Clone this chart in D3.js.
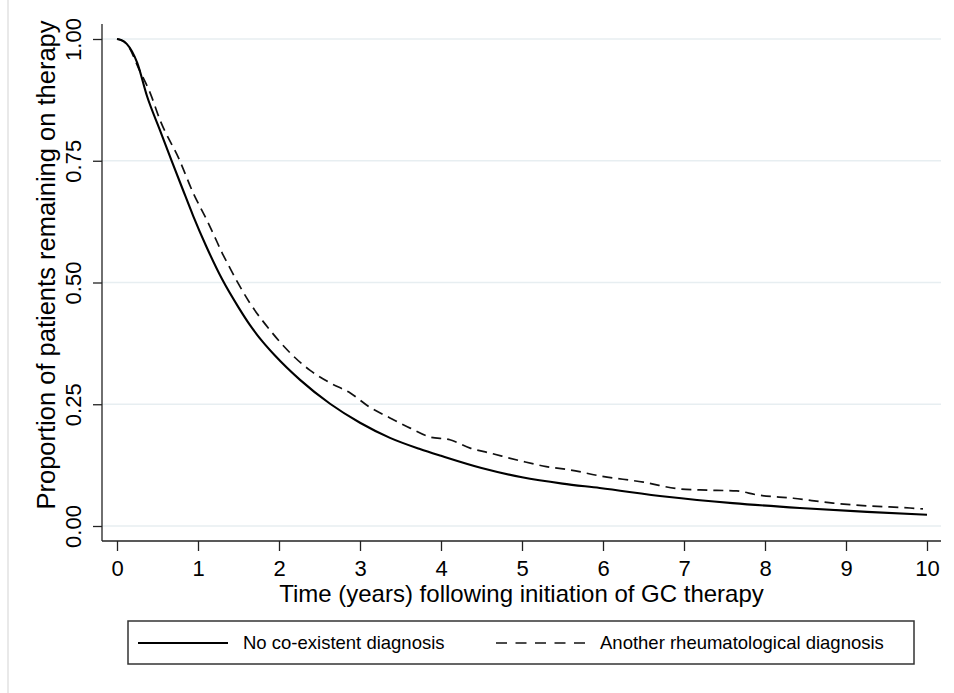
<!DOCTYPE html>
<html>
<head>
<meta charset="utf-8">
<script src="https://cdn.jsdelivr.net/npm/d3@7"></script>
<style>
  html, body { margin: 0; padding: 0; background: #fff; }
  svg { display: block; font-family: "Liberation Sans", Arial, sans-serif; }
</style>
</head>
<body>
<svg id="chart" width="954" height="693"></svg>
<script>
// Kaplan–Meier style survival on GC therapy, two patient groups
const timesNone = [0, 0.05, 0.12, 0.25, 0.37, 0.53, 0.67, 0.81, 0.94, 1.1, 1.3, 1.5, 1.64, 1.8, 1.95, 2.26, 2.63, 3.0, 3.37, 3.74, 4.0, 4.5, 5.0, 5.5, 5.96, 6.79, 7.6, 8.43, 9.26, 10.0];
const survNone  = [1.0, 0.998, 0.99, 0.951, 0.883, 0.813, 0.752, 0.692, 0.637, 0.575, 0.506, 0.449, 0.413, 0.378, 0.35, 0.3, 0.251, 0.212, 0.181, 0.158, 0.144, 0.119, 0.1, 0.087, 0.078, 0.06, 0.047, 0.037, 0.029, 0.023];

const timesRheum = [0, 0.05, 0.12, 0.28, 0.41, 0.53, 0.77, 0.94, 1.11, 1.2, 1.3, 1.4, 1.5, 1.64, 1.89, 2.14, 2.38, 2.63, 2.88, 3.12, 3.37, 3.62, 3.86, 4.11, 4.36, 4.6, 5.0, 5.3, 5.6, 5.96, 6.5, 6.95, 7.2, 7.65, 7.9, 8.35, 8.84, 9.3, 9.79, 9.95];
const survRheum  = [1.0, 0.998, 0.99, 0.935, 0.889, 0.834, 0.752, 0.684, 0.628, 0.596, 0.56, 0.528, 0.497, 0.458, 0.402, 0.355, 0.32, 0.294, 0.273, 0.244, 0.222, 0.201, 0.183, 0.177, 0.16, 0.15, 0.133, 0.122, 0.115, 0.103, 0.09, 0.076, 0.074, 0.072, 0.064, 0.057, 0.047, 0.041, 0.037, 0.035];

const xTicks = [0, 1, 2, 3, 4, 5, 6, 7, 8, 9, 10];
const yTicks = [0, 0.25, 0.5, 0.75, 1.0];
const seriesNames = ["No co-existent diagnosis", "Another rheumatological diagnosis"];
const xTitle = "Time (years) following initiation of GC therapy";
const yTitle = "Proportion of patients remaining on therapy";

const svg = d3.select("#chart");

// outer frame edge on the left
svg.append("line").attr("x1", 8).attr("x2", 8).attr("y1", 0).attr("y2", 693)
  .attr("stroke", "#e9e9e9").attr("stroke-width", 2);

const plot = { left: 102, right: 941, top: 24, bottom: 541 };
const x = d3.scaleLinear().domain([0, 10]).range([117, 927]);
const y = d3.scaleLinear().domain([0, 1]).range([526, 39]);

// horizontal grid
svg.append("g").selectAll("line").data(yTicks).join("line")
  .attr("x1", plot.left).attr("x2", plot.right)
  .attr("y1", d => y(d)).attr("y2", d => y(d))
  .attr("stroke", "#e7eef1").attr("stroke-width", 1.6);

// y axis
const yAxis = svg.append("g").attr("transform", `translate(${plot.left},0)`)
  .call(d3.axisLeft(y).tickValues(yTicks).tickFormat(d3.format(".2f")).tickSize(9).tickPadding(0));
yAxis.select(".domain").attr("d", `M0,${plot.top}V${plot.bottom}`).attr("stroke", "#222").attr("stroke-width", 1.3);
yAxis.selectAll(".tick line").attr("stroke", "#222").attr("stroke-width", 1.3);
yAxis.selectAll(".tick text")
  .attr("x", 0).attr("y", 0).attr("dy", 0)
  .attr("transform", "translate(-21,0) rotate(-90)")
  .attr("text-anchor", "middle")
  .attr("font-size", 22).attr("fill", "#000")
  .style("font-family", "'Liberation Sans', Arial, sans-serif");

// x axis
const xAxis = svg.append("g").attr("transform", `translate(0,${plot.bottom})`)
  .call(d3.axisBottom(x).tickValues(xTicks).tickFormat(d3.format("d")).tickSize(10).tickPadding(0));
xAxis.select(".domain").attr("d", `M${plot.left},0H${plot.right}`).attr("stroke", "#222").attr("stroke-width", 1.3);
xAxis.selectAll(".tick line").attr("stroke", "#222").attr("stroke-width", 1.3);
xAxis.selectAll(".tick text")
  .attr("y", 35).attr("dy", 0)
  .attr("font-size", 22).attr("fill", "#000")
  .style("font-family", "'Liberation Sans', Arial, sans-serif");

// axis titles
svg.append("text")
  .attr("x", (plot.left + plot.right) / 2).attr("y", 602)
  .attr("text-anchor", "middle").attr("font-size", 24).attr("fill", "#000")
  .text(xTitle);
svg.append("text")
  .attr("transform", "translate(55,265) rotate(-90)")
  .attr("text-anchor", "middle").attr("font-size", 25.5).attr("fill", "#000")
  .text(yTitle);

// survival curves
const line = d3.line().x(d => x(d[0])).y(d => y(d[1])).curve(d3.curveMonotoneX);
const noneData = d3.zip(timesNone, survNone);
const rheumData = d3.zip(timesRheum, survRheum);

svg.append("path").datum(rheumData).attr("d", line)
  .attr("fill", "none").attr("stroke", "#111").attr("stroke-width", 1.7)
  .attr("stroke-dasharray", "10,6");
svg.append("path").datum(noneData).attr("d", line)
  .attr("fill", "none").attr("stroke", "#000").attr("stroke-width", 2.1);

// legend
const legend = svg.append("g");
legend.append("rect").attr("x", 128).attr("y", 621).attr("width", 786).attr("height", 43)
  .attr("fill", "#fff").attr("stroke", "#333").attr("stroke-width", 1.5);
legend.append("line").attr("x1", 138).attr("x2", 228).attr("y1", 643).attr("y2", 643)
  .attr("stroke", "#000").attr("stroke-width", 2.1);
legend.append("text").attr("x", 243).attr("y", 649).attr("font-size", 18.5).attr("fill", "#000")
  .text(seriesNames[0]);
legend.append("line").attr("x1", 496).attr("x2", 585).attr("y1", 643).attr("y2", 643)
  .attr("stroke", "#111").attr("stroke-width", 1.7).attr("stroke-dasharray", "11,8.5");
legend.append("text").attr("x", 600).attr("y", 649).attr("font-size", 18.5).attr("fill", "#000")
  .text(seriesNames[1]);
</script>
</body>
</html>
